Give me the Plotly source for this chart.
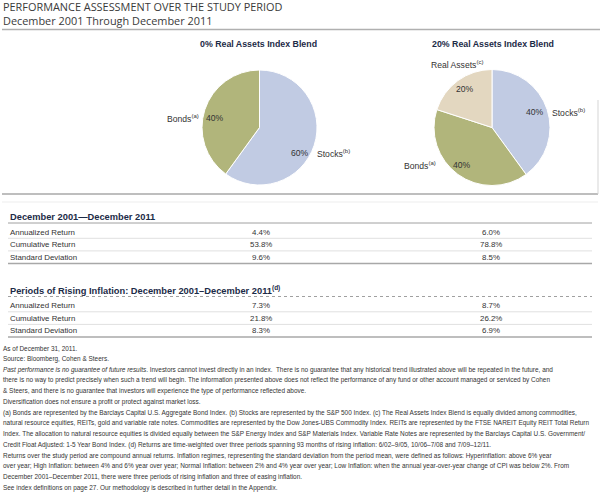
import plotly.graph_objects as go

W, H = 600, 492

# ---------------- data ----------------
title_main = "PERFORMANCE ASSESSMENT OVER THE STUDY PERIOD"
title_sub = "December 2001 Through December 2011"

pie_titles = ["0% Real Assets Index Blend", "20% Real Assets Index Blend"]
pie1_labels = ["Stocks", "Bonds"]
pie1_values = [60, 40]
pie2_labels = ["Stocks", "Bonds", "Real Assets"]
pie2_values = [40, 40, 20]
label_marks = {"Stocks": "(b)", "Bonds": "(a)", "Real Assets": "(c)"}
slice_colors = {"Stocks": "#c1cbe3", "Bonds": "#b1b57b", "Real Assets": "#e3d7c0"}

table_titles = ["December 2001\u2014December 2011",
                "Periods of Rising Inflation: December 2001\u2013December 2011<sup>(d)</sup>"]
row_labels = ["Annualized Return", "Cumulative Return", "Standard Deviation"]
t1_blend0 = [4.4, 53.8, 9.6]
t1_blend20 = [6.0, 78.8, 8.5]
t2_blend0 = [7.3, 21.8, 8.3]
t2_blend20 = [8.7, 26.2, 6.9]

notes = [
    "As of December 31, 2011.",
    "Source: Bloomberg, Cohen & Steers.",
    "<i>Past performance is no guarantee of future results</i>. Investors cannot invest directly in an index.  There is no guarantee that any historical trend illustrated above will be repeated in the future, and",
    "there is no way to predict precisely when such a trend will begin. The information presented above does not reflect the performance of any fund or other account managed or serviced by Cohen",
    "& Steers, and there is no guarantee that investors will experience the type of performance reflected above.",
    "Diversification does not ensure a profit or protect against market loss.",
    "(a) Bonds are represented by the Barclays Capital U.S. Aggregate Bond Index. (b) Stocks are represented by the S&P 500 Index. (c) The Real Assets Index Blend is equally divided among commodities,",
    "natural resource equities, REITs, gold and variable rate notes. Commodities are represented by the Dow Jones-UBS Commodity Index. REITs are represented by the FTSE NAREIT Equity REIT Total Return",
    "Index. The allocation to natural resource equities is divided equally between the S&P Energy Index and S&P Materials Index. Variable Rate Notes are represented by the Barclays Capital U.S. Government/",
    "Credit Float Adjusted: 1-5 Year Bond Index. (d) Returns are time-weighted over three periods spanning 93 months of rising inflation: 6/02\u20139/05, 10/06\u20137/08 and 7/09\u201312/11.",
    "Returns over the study period are compound annual returns. Inflation regimes, representing the standard deviation from the period mean, were defined as follows: Hyperinflation: above 6% year",
    "over year; High Inflation: between 4% and 6% year over year; Normal Inflation: between 2% and 4% year over year; Low Inflation: when the annual year-over-year change of CPI was below 2%. From",
    "December 2001\u2013December 2011, there were three periods of rising inflation and three of easing inflation.",
    "See index definitions on page 27. Our methodology is described in further detail in the Appendix.",
]

# ---------------- helpers ----------------
COND = "Liberation Sans, Arial, sans-serif"
HEAD = "Open Sans, Noto Sans, sans-serif"
NAVY = "#1c2b47"
TXT = "#333333"

def X(px):
    return px / W

def Y(py):
    return 1 - py / H

annotations = []
shapes = []

def text(px, py, s, size, color=TXT, family=COND, xanchor="left"):
    annotations.append(dict(x=X(px), y=Y(py), xref="paper", yref="paper", text=s,
                            showarrow=False, xanchor=xanchor, yanchor="middle",
                            borderpad=0, font=dict(size=size, color=color, family=family)))

def hline(py, x0, x1, color, width=1, dash="solid"):
    shapes.append(dict(type="line", xref="paper", yref="paper", x0=X(x0), x1=X(x1),
                       y0=Y(py), y1=Y(py), line=dict(color=color, width=width, dash=dash)))

def vline(px, y0, y1, color, width=1):
    shapes.append(dict(type="line", xref="paper", yref="paper", x0=X(px), x1=X(px),
                       y0=Y(y0), y1=Y(y1), line=dict(color=color, width=width)))

fig = go.Figure()

def add_pie(labels, values, cx, cy, r):
    fig.add_trace(go.Pie(
        labels=labels, values=values, sort=False, direction="clockwise", rotation=0,
        marker=dict(colors=[slice_colors[l] for l in labels], line=dict(color="white", width=1)),
        textinfo="none", hoverinfo="label+percent", showlegend=False,
        domain=dict(x=[X(cx - r), X(cx + r)], y=[Y(cy + r), Y(cy - r)]),
    ))

# ---------------- header ----------------
text(2, 6.5, title_main, 10.9, "#3a3a3a", HEAD)
text(2, 20, title_sub, 10.9, "#3a3a3a", HEAD)
hline(29.5, 2, 600, "#b0b0b0", 1.5)

# ---------------- pies ----------------
add_pie(pie1_labels, pie1_values, 259.5, 127.5, 57.5)
add_pie(pie2_labels, pie2_values, 492, 127.5, 58)
text(258, 44, "<b>" + pie_titles[0] + "</b>", 8.8, NAVY, COND, "center")
text(493, 44, "<b>" + pie_titles[1] + "</b>", 8.8, NAVY, COND, "center")

def pct(v):
    return f"{v}%"

def lab(name):
    return f"{name}<sup>{label_marks[name]}</sup>"

LS = 8.6
# left pie labels
text(200, 118, lab("Bonds"), LS, TXT, COND, "right")
text(215, 118, pct(pie1_values[1]), LS, TXT, COND, "center")
text(300, 153, pct(pie1_values[0]), LS, TXT, COND, "center")
text(316, 153, lab("Stocks"), LS, TXT, COND, "left")
# right pie labels
text(457, 64, lab("Real Assets"), LS, TXT, COND, "center")
text(465, 89, pct(pie2_values[2]), LS, TXT, COND, "center")
text(535, 112, pct(pie2_values[0]), LS, TXT, COND, "center")
text(551, 112, lab("Stocks"), LS, TXT, COND, "left")
text(437, 165, lab("Bonds"), LS, TXT, COND, "right")
text(462, 165, pct(pie2_values[1]), LS, TXT, COND, "center")

hline(194, 2, 598, "#a8a8a8", 1.5)
vline(598, 100, 194, "#d5d5d5", 1)
hline(202, 2, 598, "#ededed", 1)

# ---------------- tables ----------------
def table(top_title_y, title, v0, v20, line_dash):
    text(9, top_title_y, "<b>" + title + "</b>", 9.3, NAVY, COND)
    y_line = top_title_y + 6.5
    hline(y_line, 8, 592, "#a0a0a0", 1, line_dash)
    row_y = y_line + 9
    step = 12.6
    for i, name in enumerate(row_labels):
        yy = row_y + i * step
        text(9, yy, name, 7.9, TXT, COND)
        text(261, yy, f"{v0[i]:.1f}%", 7.9, TXT, COND, "center")
        text(491, yy, f"{v20[i]:.1f}%", 7.9, TXT, COND, "center")
        if i < len(row_labels) - 1:
            hline(yy + 6.3, 8, 592, "#e0e0e0", 1)
        else:
            hline(yy + 6.3, 8, 592, "#a8a8a8", 1.5)

table(216.5, table_titles[0], t1_blend0, t1_blend20, "solid")
table(290, table_titles[1], t2_blend0, t2_blend20, "dot")

# ---------------- notes ----------------
y0 = 348
step = 10.75
for i, line in enumerate(notes):
    text(2, y0 + i * step, line, 6.45, TXT, COND)

fig.update_layout(
    width=W, height=H, margin=dict(l=0, r=0, t=0, b=0),
    paper_bgcolor="white", plot_bgcolor="white",
    annotations=annotations, shapes=shapes,
)
fig.write_html("out.html", config={"displayModeBar": False},
               post_script="document.body.style.margin='0';")
